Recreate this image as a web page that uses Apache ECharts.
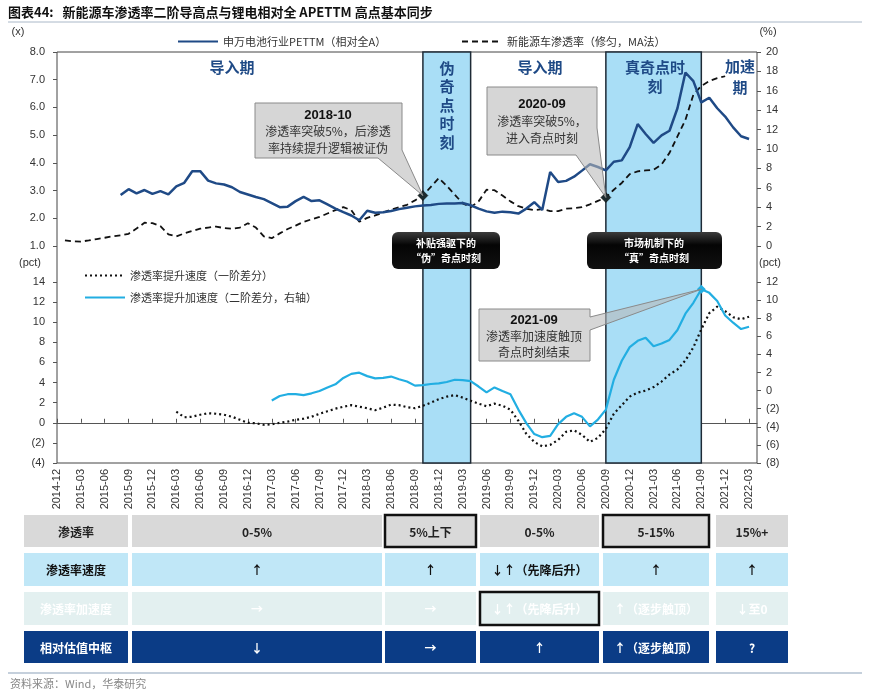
<!DOCTYPE html>
<html>
<head>
<meta charset="utf-8">
<script src="https://cdn.jsdelivr.net/npm/echarts@6/dist/echarts.min.js"></script>
<style>
html, body { margin: 0; padding: 0; background: #fff; }
#chart { width: 870px; height: 694px; }
</style>
</head>
<body>
<div id="chart"></div>
<script>
// monthly categories 2014-12 .. 2022-04
const months = []
for (let y = 2014, m = 12; y < 2022 || m <= 4;) {
  months.push(y + '-' + String(m).padStart(2, '0'))
  m++
  if (m > 12) { m = 1; y++ }
}

// 申万电池行业PETTM（相对全A），from 2015-08
const peStart = '2015-08'
const peValues = [
  2.84, 3.05, 2.90, 3.02, 2.88, 2.98, 2.86, 3.15, 3.28, 3.70, 3.70, 3.36, 3.26, 3.22, 3.12, 2.95,
  2.86, 2.77, 2.69, 2.55, 2.40, 2.42, 2.62, 2.77, 2.62, 2.65, 2.50, 2.35, 2.22, 2.10, 1.93, 2.27,
  2.20, 2.22, 2.26, 2.33, 2.38, 2.43, 2.46, 2.48, 2.52, 2.53, 2.53, 2.55, 2.47, 2.35, 2.25, 2.20,
  2.24, 2.22, 2.17, 2.35, 2.58, 2.30, 3.67, 3.31, 3.35, 3.50, 3.72, 3.95, 3.85, 3.73, 4.04, 4.09,
  4.57, 5.40, 5.04, 4.72, 4.99, 5.16, 5.97, 7.26, 6.95, 6.18, 6.35, 5.97, 5.67, 5.28, 4.96, 4.86
]

// 新能源车渗透率（修匀，MA法）%，from 2015-01
const penStart = '2015-01'
const penValues = [
  0.58, 0.48, 0.45, 0.58, 0.72, 0.85, 1.0, 1.1, 1.26, 1.8, 2.4, 2.35, 2.05, 1.2, 0.98, 1.3,
  1.55, 1.78, 1.9, 2.0, 1.85, 1.78, 1.9, 2.34, 1.9, 1.0, 0.8, 1.3, 1.75, 2.1, 2.49, 2.75,
  3.0, 3.35, 3.7, 4.0, 3.7, 2.5, 2.9, 3.15, 3.45, 3.75, 4.0, 4.25, 4.7, 5.2, 6.1, 7.0,
  6.2, 5.3, 4.4, 4.0, 4.6, 5.8, 5.75, 5.2, 4.6, 4.1, 3.85, 3.7, 3.8, 3.6, 3.6, 3.85,
  3.9, 4.0, 4.3, 4.65, 5.0, 5.8, 6.5, 7.4, 7.7, 7.8, 7.85, 8.4, 9.6, 11.3, 13.0, 15.6,
  16.5, 17.0, 17.3, 17.5
]

// 渗透率提升速度（一阶差分）pct，from 2016-03
const speedStart = '2016-03'
const speedValues = [
  1.1, 0.55, 0.6, 0.8, 0.95, 0.9, 0.8, 0.6, 0.3, 0.0, -0.05, -0.2, -0.15, 0.0, 0.12, 0.3,
  0.4, 0.6, 0.9, 1.15, 1.4, 1.6, 1.75, 1.6, 1.45, 1.25, 1.5, 1.8, 1.75, 1.55, 1.45, 1.7,
  2.0, 2.35, 2.6, 2.75, 2.5, 2.2, 1.9, 1.65, 1.9, 1.7, 1.3, 0.2, -1.1, -1.9, -2.35, -2.2,
  -1.7, -0.9, -0.75, -1.2, -1.9, -1.5, -0.6, 0.9, 1.75, 2.6, 3.0, 3.2, 3.55, 4.1, 4.8, 5.3,
  6.2, 7.5, 9.3, 10.9, 11.55, 11.1, 10.5, 10.3, 10.55
]

// 渗透率提升加速度（二阶差分，右轴）pct，from 2017-03
const accelStart = '2017-03'
const accelValues = [
  -1.1, -0.6, -0.4, -0.38, -0.5, -0.3, -0.05, 0.35, 0.7, 1.4, 1.85, 1.98, 1.6, 1.35, 1.4, 1.55,
  1.25, 1.0, 0.55, 0.6, 0.73, 0.8, 0.95, 1.2, 1.15, 1.05, 0.45, -0.2, 0.35, -0.05, -0.4, -2.1,
  -3.6, -4.8, -5.15, -5.0, -3.7, -2.9, -2.5, -2.9, -3.95, -3.2, -2.1, 1.2, 3.3, 4.8, 5.5, 5.85,
  4.9, 5.2, 5.6, 6.7, 8.5, 9.7, 11.2, 10.8, 9.9, 8.3, 7.5, 6.8, 7.05
]

// shaded 奇点时刻 periods
const bands = [['2018-10', '2019-04'], ['2020-09', '2021-09']]

// table
const rowLabels = ['渗透率', '渗透率速度', '渗透率加速度', '相对估值中枢']
const rowCells = [
  ['0-5%', '5%上下', '0-5%', '5-15%', '15%+'],
  ['↑', '↑', '↓↑（先降后升）', '↑', '↑'],
  ['→', '→', '↓↑（先降后升）', '↑（逐步触顶）', '↓至0'],
  ['↓', '→', '↑', '↑（逐步触顶）', '?']
]

const CN = "'Noto Sans CJK SC', 'Liberation Sans', sans-serif"
const EN = "'Liberation Sans', Arial, sans-serif"

const pad = (start, vals) => {
  const i0 = months.indexOf(start)
  return months.map((m, i) => (i >= i0 && i - i0 < vals.length) ? vals[i - i0] : null)
}
const peData = pad(peStart, peValues)
const penData = pad(penStart, penValues)
const speedData = pad(speedStart, speedValues)
const accelData = pad(accelStart, accelValues)
const paren = v => v < 0 ? '(' + Math.abs(v) + ')' : String(v)

const chart = echarts.init(document.getElementById('chart'), null, { renderer: 'canvas' })

const lbl = { color: '#333', fontSize: 11, fontFamily: EN }
const tick = { show: true, length: 4, lineStyle: { color: '#555' } }
const legendBase = {
  itemWidth: 40, itemHeight: 10, selectedMode: false,
  itemStyle: { opacity: 0 },
  textStyle: { fontSize: 11, color: '#333', fontFamily: CN }
}

const option = {
  animation: false,
  backgroundColor: '#fff',
  grid: [
    { left: 57, right: 113, top: 52, height: 194 },
    { left: 57, right: 113, top: 282, height: 181 },
    { left: 57, right: 113, top: 52, height: 411, show: true, borderColor: '#444', borderWidth: 1, backgroundColor: 'transparent' }
  ],
  xAxis: [
    { type: 'category', gridIndex: 0, data: months, boundaryGap: false, show: false },
    {
      type: 'category', gridIndex: 1, data: months, boundaryGap: false,
      axisLine: { onZero: true, lineStyle: { color: '#555', width: 1 } },
      axisTick: { show: true, inside: true, interval: 2, length: 4, lineStyle: { color: '#555' } },
      axisLabel: { show: false }
    },
    {
      type: 'category', gridIndex: 2, data: months, boundaryGap: false,
      axisLine: { show: false }, axisTick: { show: false },
      axisLabel: { ...lbl, rotate: 90, margin: 6, interval: (i) => i % 3 === 0 && i <= 87 }
    }
  ],
  yAxis: [
    { type: 'value', gridIndex: 0, position: 'left', min: 1, max: 8, interval: 1, axisLine: { show: false }, axisTick: tick, splitLine: { show: false }, axisLabel: { ...lbl, margin: 12, formatter: v => v.toFixed(1) } },
    { type: 'value', gridIndex: 0, position: 'right', min: 0, max: 20, interval: 2, axisLine: { show: false }, axisTick: tick, splitLine: { show: false }, axisLabel: { ...lbl, margin: 9 } },
    { type: 'value', gridIndex: 1, position: 'left', min: -4, max: 14, interval: 2, axisLine: { show: false }, axisTick: tick, splitLine: { show: false }, axisLabel: { ...lbl, margin: 12, formatter: paren } },
    { type: 'value', gridIndex: 1, position: 'right', min: -8, max: 12, interval: 2, axisLine: { show: false }, axisTick: tick, splitLine: { show: false }, axisLabel: { ...lbl, margin: 9, formatter: paren } },
    { type: 'value', gridIndex: 2, min: 0, max: 1, show: false }
  ],
  legend: [
    { ...legendBase, data: ['申万电池行业PETTM（相对全A）'], left: 172, top: 31 },
    { ...legendBase, data: ['新能源车渗透率（修匀，MA法）'], left: 456, top: 31 },
    { ...legendBase, data: ['渗透率提升速度（一阶差分）'], left: 79, top: 265 },
    { ...legendBase, data: ['渗透率提升加速度（二阶差分，右轴）'], left: 79, top: 287 }
  ],
  series: [
    {
      name: 'bands', type: 'line', xAxisIndex: 2, yAxisIndex: 4, z: 1,
      data: months.map(() => null), symbol: 'none', silent: true,
      markArea: {
        silent: true,
        itemStyle: { color: '#a9def6', borderColor: '#1e2a36', borderWidth: 1.5 },
        data: bands.map(b => [{ xAxis: b[0] }, { xAxis: b[1] }])
      }
    },
    {
      name: '申万电池行业PETTM（相对全A）', type: 'line', xAxisIndex: 0, yAxisIndex: 0, z: 4,
      data: peData, symbol: 'none', color: '#1f4a86', lineStyle: { width: 2.5, color: '#1f4a86' }
    },
    {
      name: '新能源车渗透率（修匀，MA法）', type: 'line', xAxisIndex: 0, yAxisIndex: 1, z: 3,
      data: penData, symbol: 'none', color: '#111', lineStyle: { width: 1.8, type: [6, 4], color: '#111' },
      markPoint: {
        symbol: 'diamond', symbolSize: 10, label: { show: false },
        itemStyle: { color: '#1c2b2e', borderColor: '#000', borderWidth: 0.5, opacity: 1 },
        data: ['2018-10', '2020-09'].map(m => ({ coord: [m, penData[months.indexOf(m)]] }))
      }
    },
    {
      name: '渗透率提升速度（一阶差分）', type: 'line', xAxisIndex: 1, yAxisIndex: 2, z: 3,
      data: speedData, symbol: 'none', color: '#111', lineStyle: { width: 2.2, type: [2, 3], color: '#111' }
    },
    {
      name: '渗透率提升加速度（二阶差分，右轴）', type: 'line', xAxisIndex: 1, yAxisIndex: 3, z: 4,
      data: accelData, symbol: 'none', color: '#22aee2', lineStyle: { width: 2.2, color: '#22aee2' },
      markPoint: {
        symbol: 'diamond', symbolSize: 9, label: { show: false },
        itemStyle: { color: '#22aee2', opacity: 1 },
        data: [{ coord: ['2021-09', accelData[months.indexOf('2021-09')]] }]
      }
    }
  ]
}
chart.setOption(option)

// ---- annotations, table, titles ----
const g = []
const text = (x, y, s, st) => g.push({
  type: 'text', x, y, z: 110,
  style: Object.assign({ text: s, fill: '#333', font: '12px ' + CN, align: 'center', textAlign: 'center', verticalAlign: 'middle', textVerticalAlign: 'middle' }, st)
})
const rect = (x, y, w, h, st, r) => g.push({ type: 'rect', z: 100, shape: { x, y, width: w, height: h, r: r || 0 }, style: st })
const line = (x1, y1, x2, y2, st) => g.push({ type: 'line', z: 100, shape: { x1, y1, x2, y2 }, style: st })

// title
text(8, 12, '图表44:   新能源车渗透率二阶导高点与锂电相对全 APETTM 高点基本同步', { align: 'left', textAlign: 'left', font: 'bold 13px ' + CN, fill: '#111' })
line(8, 22, 862, 22, { stroke: '#aab8c8', lineWidth: 1 })

// units
text(18, 32, '(x)', { font: '11px ' + EN })
text(768, 32, '(%)', { font: '11px ' + EN })
text(30, 263, '(pct)', { font: '11px ' + EN })
text(770, 263, '(pct)', { font: '11px ' + EN })

// period labels
const stage = { font: 'bold 15px ' + CN, fill: '#1f4a86' }
text(232, 67, '导入期', stage)
text(540, 67, '导入期', stage)
text(447, 105, '伪\n奇\n点\n时\n刻', Object.assign({ lineHeight: 18.5 }, stage))
text(655, 77, '真奇点时\n刻', Object.assign({ lineHeight: 19 }, stage))
text(740, 77, '加速\n期', Object.assign({ lineHeight: 21 }, stage))

// callouts with pointers to the data points
const px = (xi, yi, m, arr) => chart.convertToPixel({ xAxisIndex: xi, yAxisIndex: yi }, [m, arr[months.indexOf(m)]])
const tip1 = px(0, 1, '2018-10', penData)
const tip2 = px(0, 1, '2020-09', penData)
const tip3 = px(1, 3, '2021-09', accelData)
const calloutStyle = { fill: 'rgba(185,185,185,0.58)', stroke: '#8a8a8a', lineWidth: 1 }
g.push({ type: 'polygon', z: 99, shape: { points: [[255, 103], [402, 103], [402, 150], tip1, [378, 158], [255, 158]] }, style: calloutStyle })
g.push({ type: 'polygon', z: 99, shape: { points: [[487, 87], [597, 87], [597, 128], tip2, [576, 155], [487, 155]] }, style: calloutStyle })
g.push({ type: 'polygon', z: 99, shape: { points: [[479, 309], [590, 309], [590, 317], tip3, [590, 330], [590, 361], [479, 361]] }, style: calloutStyle })
text(328, 115, '2018-10', { font: 'bold 13px ' + EN, fill: '#111' })
text(328, 131, '渗透率突破5%，后渗透', { fill: '#333' })
text(328, 148, '率持续提升逻辑被证伪', { fill: '#333' })
text(542, 104, '2020-09', { font: 'bold 13px ' + EN, fill: '#111' })
text(542, 121, '渗透率突破5%，', { fill: '#333' })
text(542, 138, '进入奇点时刻', { fill: '#333' })
text(534, 320, '2021-09', { font: 'bold 13px ' + EN, fill: '#111' })
text(534, 336, '渗透率加速度触顶', { fill: '#333' })
text(534, 352, '奇点时刻结束', { fill: '#333' })

// black labels
const blackFill = new echarts.graphic.LinearGradient(0, 0, 0, 1, [
  { offset: 0, color: '#3c3c3c' }, { offset: 0.35, color: '#050505' }, { offset: 1, color: '#111' }
])
rect(392, 232, 108, 37, { fill: blackFill }, 6)
text(446, 243, '补贴强驱下的', { font: 'bold 10px ' + CN, fill: '#fff' })
text(446, 258, '“伪”奇点时刻', { font: 'bold 10px ' + CN, fill: '#fff' })
rect(587, 232, 135, 37, { fill: blackFill }, 6)
text(654, 243, '市场机制下的', { font: 'bold 10px ' + CN, fill: '#fff' })
text(654, 258, '“真”奇点时刻', { font: 'bold 10px ' + CN, fill: '#fff' })

// table
const cols = [[24, 128], [132, 382], [385, 476], [480, 599], [603, 709], [716, 788]]
const rows = [[515, 547], [553, 586], [592, 625], [631, 663]]
const rowFill = ['#d9d9d9', '#c0e7f7', '#e3f0f0', '#0b3c86']
const rowText = ['#222', '#111', '#ffffff', '#ffffff']
const boxed = { '0-2': 1, '0-4': 1, '2-3': 1 }
rows.forEach((r, ri) => {
  cols.forEach((c, ci) => {
    const b = boxed[ri + '-' + ci]
    rect(c[0], r[0], c[1] - c[0], r[1] - r[0], b ? { fill: rowFill[ri], stroke: '#111', lineWidth: 2.5 } : { fill: rowFill[ri] })
    const s = ci === 0 ? rowLabels[ri] : rowCells[ri][ci - 1]
    text((c[0] + c[1]) / 2, (r[0] + r[1]) / 2 + 1, s, { font: 'bold 12px ' + CN, fill: rowText[ri] })
  })
})

// footer
line(8, 673, 862, 673, { stroke: '#c5d0dc', lineWidth: 2 })
text(10, 684, '资料来源：Wind，华泰研究', { align: 'left', textAlign: 'left', font: '11px ' + CN, fill: '#888' })

chart.setOption({ graphic: { elements: g } })
</script>
</body>
</html>
